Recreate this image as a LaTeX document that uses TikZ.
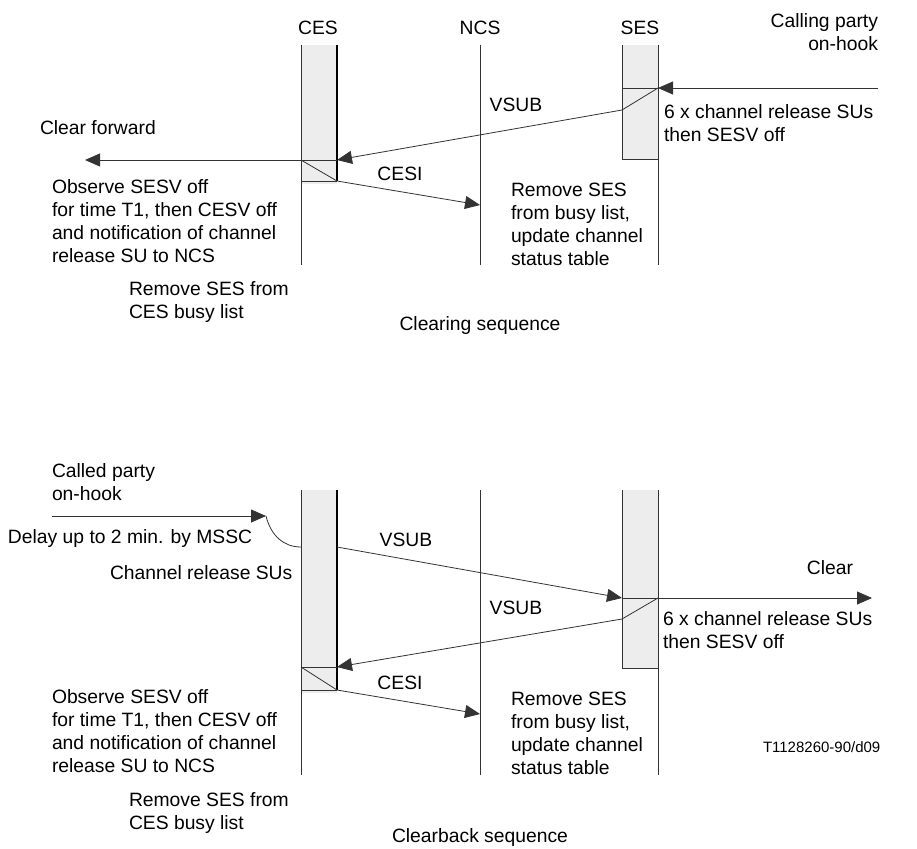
\documentclass[tikz,border=0pt]{standalone}
\usepackage{fontspec}
\setmainfont{Liberation Sans}
\usetikzlibrary{arrows.meta}
\begin{document}
\begin{tikzpicture}[x=1pt,y=-1pt,
  every node/.style={inner sep=0pt,outer sep=0pt,font=\fontsize{19.3}{23}\selectfont},
  lbl/.style={anchor=north west,align=left},
  ctr/.style={anchor=north,align=center},
  small/.style={font=\fontsize{15}{18}\selectfont},
  life/.style={draw=black!80,line width=0.8pt},
  thickline/.style={draw=black,line width=2pt},
  actbox/.style={fill=black!7},
  thin/.style={draw=black!80,line width=0.8pt},
  msg/.style={draw=black!80,line width=0.8pt,-{Triangle[length=15pt,width=13pt]}},
]
\useasboundingbox (0,0) rectangle (917,848);

%% ---------------- Clearing sequence ----------------
% lifelines
\coordinate (c1top) at (301,45);  \coordinate (c1bot) at (301,265);
\coordinate (c1rtop) at (337,45);
\coordinate (n1top) at (480,45);  \coordinate (n1bot) at (480,265);
\coordinate (s1ltop) at (622,45);
\coordinate (s1top) at (658,45);  \coordinate (s1bot) at (658,265);
% event points
\coordinate (c1a) at (301,160); \coordinate (c1b) at (337,160);
\coordinate (c1c) at (301,181); \coordinate (c1d) at (337,181);
\coordinate (s1a) at (622,88);  \coordinate (s1b) at (658,88);
\coordinate (s1c) at (622,110); \coordinate (s1d) at (622,159); \coordinate (s1e) at (658,159);
\coordinate (n1in) at (480,205);
\coordinate (cf) at (85,160);
\coordinate (cp) at (878,88);

\fill[actbox] (301,45) rectangle (337,184);
\fill[actbox] (622,45) rectangle (658,159);
\draw[life] (c1top) -- (c1bot);
\draw[thickline] (c1rtop) -- (c1d);
\draw[life] (n1top) -- (n1bot);
\draw[life] (s1ltop) -- (s1d) -- (s1e);
\draw[life] (s1top) -- (s1bot);
\draw[thin] (c1a) -- (c1b);
\draw[thin] (c1a) -- (c1d);
\draw[thin] (c1c) -- (c1d);
\draw[thin] (s1a) -- (s1b);
\draw[thin] (s1c) -- (s1b);

\draw[msg] (cp) -- (s1b);
\draw[msg] (s1c) -- (c1b);
\draw[msg] (c1d) -- (n1in);
\draw[msg] (c1a) -- (cf);

\node[ctr] (tces) at (318,21) {CES};
\node[ctr] (tncs) at (480,21) {NCS};
\node[ctr] (tses) at (640,21) {SES};
\node[anchor=north east,align=right] (calling) at (878,14) {Calling party\\on-hook};
\node[ctr] (vsub1) at (516,98) {VSUB};
\node[lbl] (six1) at (664,105) {6 x channel release SUs\\then SESV off};
\node[lbl] (clrf) at (40,121) {Clear forward};
\node[ctr] (cesi1) at (400,167) {CESI};
\node[lbl] (obs1) at (52,180) {Observe SESV off\\for time T1, then CESV off\\and notification of channel\\release SU to NCS};
\node[lbl] (rem1) at (129,282) {Remove SES from\\CES busy list};
\node[lbl] (ncsr1) at (511,183) {Remove SES\\from busy list,\\update channel\\status table};
\node[ctr] (title1) at (480,317) {Clearing sequence};

%% ---------------- Clearback sequence ----------------
\coordinate (c2top) at (301,490); \coordinate (c2bot) at (301,775);
\coordinate (c2rtop) at (337,490);
\coordinate (n2top) at (480,490); \coordinate (n2bot) at (480,775);
\coordinate (s2ltop) at (622,490);
\coordinate (s2top) at (658,490); \coordinate (s2bot) at (658,775);
\coordinate (hook) at (266,516); \coordinate (hstart) at (52,516);
\coordinate (c2in) at (301,547); \coordinate (c2out) at (337,547);
\coordinate (s2a) at (622,598); \coordinate (s2b) at (658,598);
\coordinate (s2c) at (622,619); \coordinate (s2d) at (622,668); \coordinate (s2e) at (658,668);
\coordinate (clr) at (872,598);
\coordinate (c2a) at (301,667); \coordinate (c2b) at (337,667);
\coordinate (c2c) at (301,690); \coordinate (c2d) at (337,690);
\coordinate (n2in) at (480,714);

\fill[actbox] (301,490) rectangle (337,693);
\fill[actbox] (622,490) rectangle (658,668);
\draw[life] (c2top) -- (c2bot);
\draw[thickline] (c2rtop) -- (c2d);
\draw[life] (n2top) -- (n2bot);
\draw[life] (s2ltop) -- (s2d) -- (s2e);
\draw[life] (s2top) -- (s2bot);
\draw[thin] (s2a) -- (s2b);
\draw[thin] (s2c) -- (s2b);
\draw[thin] (c2a) -- (c2b);
\draw[thin] (c2a) -- (c2d);
\draw[thin] (c2c) -- (c2d);

\draw[msg] (hstart) -- (hook);
\draw[thin] (hook) .. controls (271,536) and (284,547) .. (c2in);
\draw[msg] (c2out) -- (s2a);
\draw[msg] (s2b) -- (clr);
\draw[msg] (s2c) -- (c2b);
\draw[msg] (c2d) -- (n2in);

\node[lbl] (called) at (52,464) {Called party\\on-hook};
\node[lbl] (delay) at (8,530) {Delay up to 2 min. by MSSC};
\node[lbl] (chrel) at (110,566) {Channel release SUs};
\node[ctr] (vsub2) at (406,533) {VSUB};
\node[ctr] (clear) at (830,561) {Clear};
\node[ctr] (vsub3) at (516,601) {VSUB};
\node[lbl] (six2) at (663,612) {6 x channel release SUs\\then SESV off};
\node[ctr] (cesi2) at (400,676) {CESI};
\node[lbl] (obs2) at (52,690) {Observe SESV off\\for time T1, then CESV off\\and notification of channel\\release SU to NCS};
\node[lbl] (ncsr2) at (511,692) {Remove SES\\from busy list,\\update channel\\status table};
\node[lbl,small] (ref) at (763,742) {T1128260-90/d09};
\node[lbl] (rem2) at (129,793) {Remove SES from\\CES busy list};
\node[ctr] (title2) at (480,829) {Clearback sequence};
\end{tikzpicture}
\end{document}
